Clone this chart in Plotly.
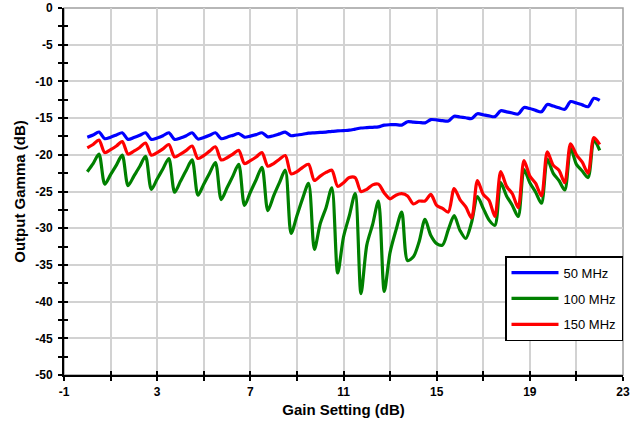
import plotly.graph_objects as go

gain_db = [0.0, 0.25, 0.5, 0.75, 1.0, 1.25, 1.5, 1.75, 2.0, 2.25, 2.5, 2.75,
           3.0, 3.25, 3.5, 3.75, 4.0, 4.25, 4.5, 4.75, 5.0, 5.25, 5.5, 5.75,
           6.0, 6.25, 6.5, 6.75, 7.0, 7.25, 7.5, 7.75, 8.0, 8.25, 8.5, 8.75,
           9.0, 9.25, 9.5, 9.75, 10.0, 10.25, 10.5, 10.75, 11.0, 11.25, 11.5, 11.75,
           12.0, 12.25, 12.5, 12.75, 13.0, 13.25, 13.5, 13.75, 14.0, 14.25, 14.5, 14.75,
           15.0, 15.25, 15.5, 15.75, 16.0, 16.25, 16.5, 16.75, 17.0, 17.25, 17.5, 17.75,
           18.0, 18.25, 18.5, 18.75, 19.0, 19.25, 19.5, 19.75, 20.0, 20.25, 20.5, 20.75,
           21.0, 21.25, 21.5, 21.75, 22.0]

gamma_50mhz = [-17.6, -17.3, -16.9, -17.8, -17.6, -17.3, -17.0, -17.9,
               -17.65, -17.35, -17.0, -17.9, -17.7, -17.4, -17.0, -17.9,
               -17.7, -17.4, -17.0, -17.85, -17.65, -17.35, -17.0, -17.8,
               -17.6, -17.35, -17.1, -17.6, -17.45, -17.25, -17.0, -17.55,
               -17.4, -17.15, -16.9, -17.4, -17.3, -17.2, -17.05, -17.0,
               -16.95, -16.9, -16.8, -16.75, -16.7, -16.65, -16.5, -16.35,
               -16.3, -16.25, -16.2, -15.95, -15.9, -15.9, -15.95, -15.5,
               -15.55, -15.6, -15.65, -15.2, -15.25, -15.35, -15.4, -14.75,
               -14.85, -14.95, -15.05, -14.4, -14.55, -14.7, -14.8, -14.0,
               -14.15, -14.3, -14.45, -13.55, -13.7, -13.95, -14.15, -13.15,
               -13.35, -13.6, -13.8, -12.75, -12.95, -13.2, -13.45, -12.3,
               -12.6]

gamma_100mhz = [-22.3, -21.2, -19.9, -24.0, -22.7, -21.4, -20.05, -24.2,
                -22.9, -21.6, -20.2, -24.7, -23.3, -21.9, -20.5, -25.1,
                -23.6, -22.1, -20.7, -25.5, -24.0, -22.5, -21.05, -26.1,
                -24.5, -22.9, -21.3, -26.9, -25.1, -23.4, -21.7, -27.6,
                -25.6, -23.8, -22.1, -30.7, -28.3, -25.9, -23.9, -32.9,
                -29.4, -27.2, -24.5, -36.1, -31.2, -28.3, -25.3, -38.9,
                -32.3, -29.5, -26.3, -38.6, -33.3, -30.3, -27.8, -34.4,
                -33.9, -31.8, -28.8, -31.0, -32.1, -32.3, -30.2, -28.3,
                -30.3, -31.4, -29.2, -25.7, -27.3, -28.9, -29.6, -23.8,
                -25.6, -26.9, -28.4, -22.0, -23.8, -25.1, -26.6, -20.6,
                -22.5, -23.5, -24.8, -19.1, -21.3, -22.2, -23.1, -18.0,
                -19.4]

gamma_150mhz = [-19.05, -18.6, -18.0, -19.7, -19.3, -18.8, -18.2, -19.9,
                -19.5, -19.0, -18.4, -20.05, -19.7, -19.2, -18.6, -20.3,
                -19.9, -19.4, -18.8, -20.5, -20.1, -19.5, -18.9, -20.7,
                -20.4, -19.9, -19.4, -21.2, -20.8, -20.3, -19.7, -21.55,
                -21.2, -20.6, -20.1, -22.6, -22.3, -21.7, -21.3, -23.5,
                -22.9, -22.4, -22.1, -24.3, -23.8, -23.1, -23.1, -25.0,
                -24.7, -24.1, -24.0, -25.2, -26.0, -25.5, -25.3, -25.6,
                -26.7, -26.3, -26.3, -25.4, -26.9, -27.3, -27.8, -24.6,
                -26.1, -27.1, -28.6, -23.5, -25.4, -26.2, -28.4, -22.3,
                -24.3, -25.3, -27.2, -20.8, -22.9, -23.9, -25.6, -19.6,
                -21.4, -22.1, -23.8, -18.5, -20.0, -21.0, -22.5, -17.65,
                -18.6]

series_names = ["50 MHz", "100 MHz", "150 MHz"]
series_colors = ["#0000ff", "#008000", "#ff0000"]
x_tick_vals = [-1, 3, 7, 11, 15, 19, 23]
y_tick_vals = [0, -5, -10, -15, -20, -25, -30, -35, -40, -45, -50]

FONT = "Liberation Sans, Arial, sans-serif"

fig = go.Figure()
for name, color, vals in zip(series_names, series_colors,
                             [gamma_50mhz, gamma_100mhz, gamma_150mhz]):
    fig.add_trace(go.Scatter(
        x=gain_db, y=vals, name=name, mode="lines",
        line=dict(color=color, width=3.2, shape="spline", smoothing=0.8),
        legendgroup=name,
    ))

# dummy trace to activate overlay axes used for inward half of cross ticks
fig.add_trace(go.Scatter(x=[-5], y=[5], xaxis="x2", yaxis="y2", mode="markers",
                         showlegend=False, hoverinfo="skip",
                         marker=dict(opacity=0)))

tickfont = dict(family=FONT, size=12, color="black", weight="bold")
titlefont = dict(family=FONT, size=15, color="black", weight="bold")

fig.update_layout(
    width=644, height=429,
    margin=dict(l=64, r=21, t=8, b=54, autoexpand=False),
    paper_bgcolor="white", plot_bgcolor="white",
    showlegend=True,
    xaxis=dict(
        range=[-1, 23], tickvals=x_tick_vals, ticktext=[str(v) for v in x_tick_vals],
        showgrid=True, gridcolor="#d2d2d2", gridwidth=1.5,
        minor=dict(dtick=2, tick0=-1, showgrid=True, gridcolor="#d2d2d2",
                   gridwidth=1.5, ticks="outside", ticklen=4, tickcolor="black",
                   tickwidth=1.5),
        showline=True, linecolor="black", linewidth=2,
        ticks="outside", ticklen=4, tickwidth=1.5, tickcolor="black",
        tickfont=tickfont, zeroline=False, ticklabelstandoff=1,
        automargin=False,
        title=dict(text="Gain Setting (dB)", standoff=6, font=titlefont),
    ),
    yaxis=dict(
        range=[-50, 0], tickvals=y_tick_vals, ticktext=[str(v) for v in y_tick_vals],
        showgrid=True, gridcolor="#d2d2d2", gridwidth=1.5,
        minor=dict(dtick=2.5, tick0=0, showgrid=False, ticks="outside", ticklen=4,
                   tickcolor="black", tickwidth=1.5),
        showline=True, linecolor="black", linewidth=2,
        ticks="outside", ticklen=4, tickwidth=1.5, tickcolor="black",
        tickfont=tickfont, zeroline=False, ticklabelstandoff=3,
        automargin=False,
        title=dict(text="Output Gamma (dB)", standoff=6, font=titlefont),
    ),
    xaxis2=dict(
        range=[-1, 23], overlaying="x", anchor="y2", side="bottom",
        tickvals=x_tick_vals, showticklabels=False, showgrid=False, zeroline=False,
        ticks="inside", ticklen=4, tickwidth=1.5, tickcolor="black", showline=False,
        automargin=False,
        minor=dict(dtick=2, tick0=-1, ticks="inside", ticklen=4, tickcolor="black",
                   tickwidth=1.5),
    ),
    yaxis2=dict(
        range=[-50, 0], overlaying="y", anchor="x2", side="left",
        tickvals=y_tick_vals, showticklabels=False, showgrid=False, zeroline=False,
        ticks="inside", ticklen=4, tickwidth=1.5, tickcolor="black", showline=False,
        automargin=False,
        minor=dict(dtick=2.5, tick0=0, ticks="inside", ticklen=4, tickcolor="black",
                   tickwidth=1.5),
    ),
    legend=dict(
        x=1, xanchor="right", y=0.324, yanchor="top",
        bgcolor="white", bordercolor="black", borderwidth=1.5,
        font=dict(family=FONT, size=13, color="black"),
        traceorder="grouped", tracegroupgap=6,
        itemwidth=47,
    ),
    shapes=[dict(type="rect", xref="paper", yref="paper", x0=0, x1=1, y0=0, y1=1,
                 line=dict(color="#a0a0a0", width=1.5), layer="below")],
)

fig.write_html("out.html", config={"displayModeBar": False},
               post_script="document.body.style.margin='0';document.body.style.padding='0';")
